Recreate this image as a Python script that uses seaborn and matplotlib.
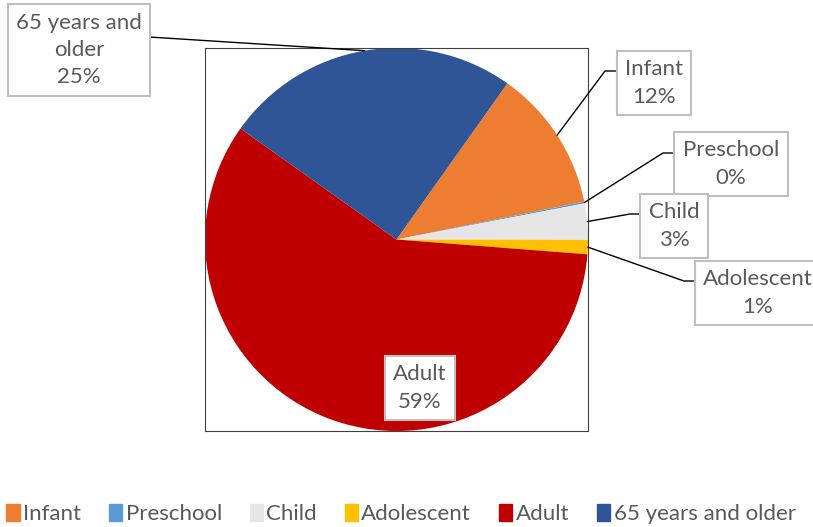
import matplotlib
matplotlib.use("Agg")
import matplotlib.pyplot as plt
import seaborn as sns
import numpy as np
from matplotlib.patches import Patch
from matplotlib.lines import Line2D

# data
groups = ["Infant", "Preschool", "Child", "Adolescent", "Adult", "65 years and older"]
shares = [12.0, 0.15, 3.05, 1.2, 58.6, 25.0]
box_labels = ["Infant", "Preschool", "Child", "Adolescent", "Adult", "65 years and\nolder"]
colors = ["#ED7D31", "#5B9BD5", "#E7E6E6", "#FFC000", "#C00000", "#2F5597"]

sns.set_theme(style="white")
plt.rcParams["font.family"] = ["Lato", "DejaVu Sans"]
TXT = "#595959"
W, H = 813, 527

fig = plt.figure(figsize=(W / 100, H / 100), dpi=100)
ax = fig.add_axes([205 / W, (H - 432) / H, 383 / W, 385 / H])

pal = sns.color_palette(colors)
wedges, _ = ax.pie(shares, colors=pal, startangle=54.6, counterclock=False,
                   wedgeprops=dict(linewidth=0))
ax.set_xlim(-1.0, 1.0)
ax.set_ylim(-1.0, 1.0)
ax.set_aspect("equal")
ax.set_frame_on(True)
for s in ax.spines.values():
    s.set_visible(True)
    s.set_color("#404040")
    s.set_linewidth(0.8)

total = sum(shares)

# label box centers (pixels from top-left)
box_pos = {
    "Infant": (654, 83),
    "Preschool": (731, 164),
    "Child": (674, 226),
    "Adolescent": (758, 293),
    "Adult": (420, 388),
    "65 years and older": (79, 50),
}
# side point of the box where the leader starts (pixels from top-left)
leader_start = {
    "Infant": (617, 71),
    "Preschool": (675, 153),
    "Child": (642, 214),
    "Adolescent": (696, 281),
    "65 years and older": (149, 37),
}

fig.canvas.draw()
for g, lab, w, v in zip(groups, box_labels, wedges, shares):
    x, y = box_pos[g]
    fig.text(x / W, 1 - y / H, f"{lab}\n{v / total * 100:.0f}%", ha="center", va="center",
             fontsize=16, color=TXT, linespacing=1.45, multialignment="center",
             bbox=dict(boxstyle="square,pad=0.38", fc="white", ec="#BFBFBF", lw=1.5),
             zorder=5)
    if g in leader_start:
        theta = np.deg2rad((w.theta1 + w.theta2) / 2)
        px, py = ax.transData.transform((np.cos(theta), np.sin(theta)))
        sx, sy = leader_start[g]
        sy = H - sy
        if g == "65 years and older":
            xs, ys = [sx, px], [sy, py]
        else:
            xs, ys = [sx, sx - 12, px], [sy, sy, py]
        fig.add_artist(Line2D(np.array(xs) / W, np.array(ys) / H, color="black",
                              lw=1.0, transform=fig.transFigure, zorder=4))

handles = [Patch(facecolor=c, edgecolor=c) for c in colors]
fig.legend(handles, groups, loc="center", bbox_to_anchor=(401 / W, 13 / H), ncol=6,
           frameon=False, fontsize=16, labelcolor=TXT, handlelength=0.6,
           handleheight=0.8, handletextpad=0.15, columnspacing=1.25,
           borderpad=0, borderaxespad=0)

fig.savefig("out.png", dpi=100)
